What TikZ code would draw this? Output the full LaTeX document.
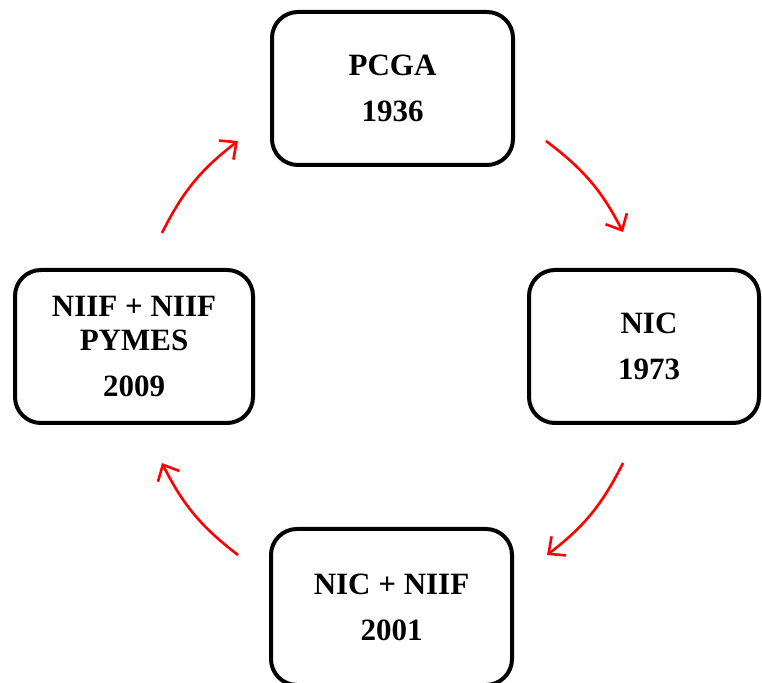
\documentclass[tikz,border=0pt]{standalone}
\usepackage{fontspec}
\setmainfont{Liberation Serif}
\usetikzlibrary{arrows.meta}
\begin{document}
\begin{tikzpicture}[x=1pt,y=1pt,
  stagebox/.style={draw=black, line width=4pt, rounded corners=26pt, fill=white,
    minimum width=241pt, minimum height=153pt, align=center, inner sep=0pt,
    font=\fontsize{31}{46}\selectfont\bfseries},
  cyclearrow/.style={draw=red, line width=2.6pt, bend left=13,
    -{Straight Barb[length=13pt,width=24pt,line width=2.6pt]}}]
\useasboundingbox (0,0) rectangle (762,682);
\node[stagebox] (pcga) at (392.5,593.5) {PCGA\\1936};
\node[stagebox, minimum width=230pt] (nic) at (644,335.5) {\hspace*{10pt}NIC\\\hspace*{10pt}1973};
\node[stagebox, minimum height=156pt] (niif) at (391.5,75) {NIC + NIIF\\2001};
\node[stagebox, minimum width=238pt] (pymes) at (134,335.5) {NIIF + NIIF\\[-12pt]PYMES\\2009};
\coordinate (a1s) at (546,541);
\coordinate (a1e) at (623,450);
\coordinate (a2s) at (623,219);
\coordinate (a2e) at (547,127);
\coordinate (a3s) at (238,127);
\coordinate (a3e) at (162,219);
\coordinate (a4s) at (162,449);
\coordinate (a4e) at (238,541);
\draw[cyclearrow] (a1s) to (a1e);
\draw[cyclearrow] (a2s) to (a2e);
\draw[cyclearrow] (a3s) to (a3e);
\draw[cyclearrow] (a4s) to (a4e);
\end{tikzpicture}
\end{document}
